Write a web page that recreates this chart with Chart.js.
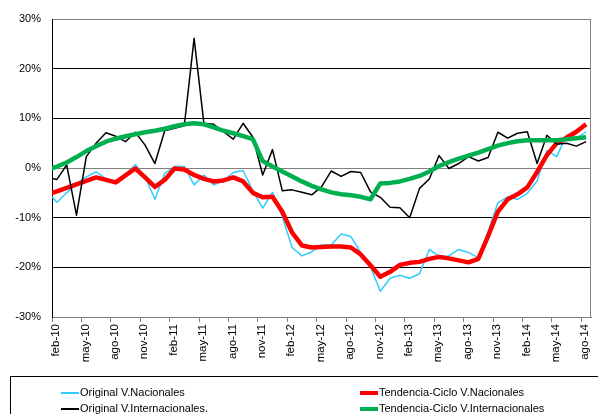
<!DOCTYPE html>
<html>
<head>
<meta charset="utf-8">
<script src="https://cdn.jsdelivr.net/npm/chart.js@4.4.1/dist/chart.umd.min.js"></script>
<style>
  html, body { margin: 0; padding: 0; background: #fff; }
  #wrap { position: relative; width: 598px; height: 414px; overflow: hidden; }
  #legend { position: absolute; left: 10px; top: 376px; width: 620px; height: 60px;
            border: 1px solid #000; font: 11px "Liberation Sans", Arial, sans-serif; color: #000; }
  .item { position: absolute; white-space: nowrap; height: 14px; line-height: 14px; }
  .item span.line { display: inline-block; width: 18px; vertical-align: middle; margin-right: 1px; }
</style>
</head>
<body>
<div id="wrap">
  <canvas id="chart" width="598" height="414"></canvas>
  <div id="legend"></div>
</div>
<script>
"use strict";
// meses ene-10 .. ago-14 (ene-10 solo queda fuera del eje, a la izquierda)
const mesesAbrev = ['ene','feb','mar','abr','may','jun','jul','ago','sep','oct','nov','dic'];
const months = [];
for (let y = 10; y <= 14; y++) {
    mesesAbrev.forEach(m => months.push(m + '-' + y));
}
months.length = 56;

const tickLabels = ['feb-10','may-10','ago-10','nov-10','feb-11','may-11','ago-11','nov-11',
    'feb-12','may-12','ago-12','nov-12','feb-13','may-13','ago-13','nov-13','feb-14','may-14','ago-14'];

const yTicks = [-30, -20, -10, 0, 10, 20, 30];

const seriesNames = ['Original V.Nacionales', 'Tendencia-Ciclo V.Nacionales',
    'Original V.Internacionales.', 'Tendencia-Ciclo V.Internacionales'];

const origNac = [-4.7,
    -6.9, -5.0, -3.2, -1.8, -0.8, -2.2, -3.1, -1.3, 0.7, -1.8,
    -6.3, -1.1, 0.3, 0.3, -3.4, -1.4, -3.4, -2.6, -0.9, -0.5,
    -4.6, -8.1, -4.9, -9.8, -16.0, -17.7, -16.9, -15.5, -15.5, -13.3,
    -13.8, -17.0, -19.9, -24.8, -22.2, -21.6, -22.2, -21.3, -16.4, -17.8,
    -17.7, -16.4, -17.0, -18.1, -12.8, -7.0, -5.8, -6.3, -5.1, -2.6,
    3.5, 2.3, 6.6, 5.9, 7.3];

const tendNac = [-5.35,
    -4.7, -4.0, -3.3, -2.6, -1.9, -2.4, -2.9, -1.5, -0.1, -1.9,
    -3.8, -2.4, -0.1, -0.3, -1.4, -2.2, -2.7, -2.5, -1.9, -2.7,
    -5.0, -5.9, -5.8, -8.8, -13.0, -15.6, -16.0, -15.9, -15.8, -15.8,
    -16.0, -17.4, -19.6, -21.9, -20.9, -19.5, -19.1, -18.9, -18.3, -17.9,
    -18.2, -18.6, -19.0, -18.3, -13.7, -8.8, -6.3, -5.3, -3.9, -0.8,
    2.6, 5.0, 6.1, 7.3, 8.8];

const origInt = [-1.9,
    -2.3, 0.6, -9.5, 2.3, 5.0, 7.1, 6.4, 5.3, 7.2, 4.6,
    0.9, 7.5, 8.0, 8.5, 26.1, 9.0, 8.8, 7.3, 5.8, 9.0,
    6.2, -1.4, 3.7, -4.6, -4.4, -4.9, -5.4, -3.8, -0.6, -1.7,
    -0.7, -0.9, -4.8, -5.9, -7.9, -8.0, -10.0, -4.1, -2.2, 2.5,
    -0.1, 0.9, 2.3, 1.4, 2.1, 7.2, 6.0, 7.0, 7.3, 0.9,
    6.6, 4.8, 5.0, 4.4, 5.3];

const tendInt = [-0.5,
    0.3, 1.1, 2.2, 3.4, 4.4, 5.3, 5.9, 6.4, 6.8, 7.2,
    7.5, 7.9, 8.4, 8.8, 9.0, 8.8, 8.2, 7.5, 7.0, 6.4,
    5.8, 1.4, 0.3, -0.7, -1.7, -2.7, -3.6, -4.3, -4.9, -5.3,
    -5.5, -5.8, -6.3, -3.1, -3.0, -2.7, -2.2, -1.6, -0.7, 0.4,
    1.2, 1.9, 2.5, 3.1, 3.8, 4.5, 5.0, 5.4, 5.6, 5.6,
    5.6, 5.6, 5.8, 6.0, 6.2];

const FONT = '"Liberation Sans", Arial, sans-serif';

// each month sits in the middle of its slot, slot 0 = feb-10
function toPoints(values) {
    return values.map((v, i) => ({ x: i - 0.5, y: v }));
}

const styles = [
    { color: '#33CCFF', width: 1.5, order: 3 },
    { color: '#FF0000', width: 4.5, order: 2 },
    { color: '#000000', width: 1.5, order: 1 },
    { color: '#00B050', width: 4.5, order: 0 }
];
const allSeries = [origNac, tendNac, origInt, tendInt];

const rightBorder = {
    id: 'rightBorder',
    afterDraw(chart) {
        const a = chart.chartArea;
        const ctx = chart.ctx;
        ctx.save();
        ctx.strokeStyle = '#808080';
        ctx.lineWidth = 1;
        ctx.beginPath();
        ctx.moveTo(a.right - 0.5, a.top);
        ctx.lineTo(a.right - 0.5, a.bottom);
        ctx.stroke();
        ctx.restore();
    }
};

const ctx = document.getElementById('chart').getContext('2d');
new Chart(ctx, {
    type: 'line',
    data: {
        datasets: allSeries.map((vals, i) => ({
            label: seriesNames[i],
            data: toPoints(vals),
            borderColor: styles[i].color,
            backgroundColor: styles[i].color,
            borderWidth: styles[i].width,
            order: styles[i].order,
            pointRadius: 0,
            tension: 0,
            borderJoinStyle: 'round',
            clip: 0
        }))
    },
    options: {
        responsive: false,
        animation: false,
        devicePixelRatio: 1,
        layout: { padding: { top: 19, right: 7, left: 0, bottom: 0 } },
        plugins: { legend: { display: false }, tooltip: { enabled: false } },
        scales: {
            x: {
                type: 'linear',
                min: 0,
                max: 55,
                afterBuildTicks: s => {
                    s.ticks = tickLabels.map(l => ({ value: months.indexOf(l) - 1 }));
                },
                afterFit: s => { s.height = 97; },
                ticks: {
                    autoSkip: false,
                    includeBounds: false,
                    minRotation: 90,
                    maxRotation: 90,
                    labelOffset: 4,
                    padding: 2,
                    color: '#000',
                    font: { family: FONT, size: 11.5 },
                    callback: v => months[v + 1]
                },
                grid: { drawOnChartArea: false, drawTicks: true, tickLength: 5, tickColor: '#808080' },
                border: { color: '#808080', width: 1 }
            },
            y: {
                min: yTicks[0],
                max: yTicks[yTicks.length - 1],
                afterFit: s => { s.width = 52; },
                ticks: {
                    stepSize: 10,
                    padding: 11,
                    color: '#000',
                    font: { family: FONT, size: 11 },
                    callback: v => v + '%'
                },
                grid: {
                    drawTicks: false,
                    lineWidth: 1,
                    color: c => (c.tick.value === 0 || c.tick.value === 30) ? '#808080' : '#000000'
                },
                border: { color: '#000', width: 1 }
            }
        }
    },
    plugins: [rightBorder]
});

// leyenda en dos columnas, como la original
const legendPos = [
    { left: 50, top: 8 }, { left: 349, top: 8 },
    { left: 50, top: 24 }, { left: 349, top: 24 }
];
const legend = document.getElementById('legend');
seriesNames.forEach((name, i) => {
    const it = document.createElement('div');
    it.className = 'item';
    it.style.left = legendPos[i].left + 'px';
    it.style.top = legendPos[i].top + 'px';
    const ln = document.createElement('span');
    ln.className = 'line';
    ln.style.height = (styles[i].width > 2 ? 4 : 2) + 'px';
    ln.style.background = styles[i].color;
    it.appendChild(ln);
    it.appendChild(document.createTextNode(name));
    legend.appendChild(it);
});
</script>
</body>
</html>
